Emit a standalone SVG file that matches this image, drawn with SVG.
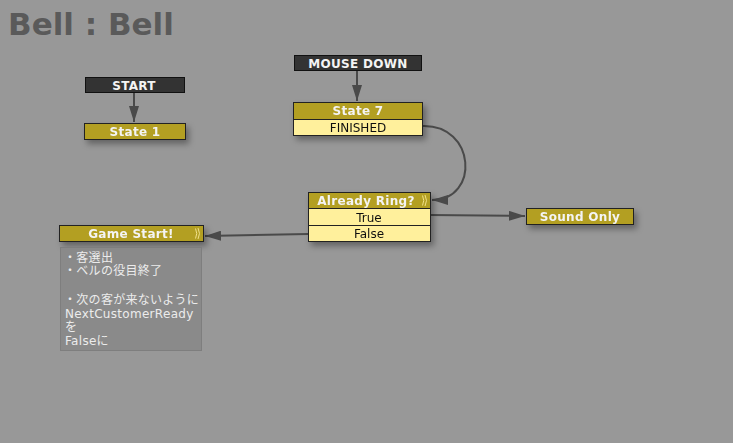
<svg xmlns="http://www.w3.org/2000/svg" width="733" height="443" viewBox="0 0 733 443">
<defs>
<style>
.hdr{fill:#b39f22;stroke:#222;stroke-width:1}
.evt{fill:#333;stroke:#111;stroke-width:1}
.row{fill:#fff09c;stroke:#222;stroke-width:1}
.t{font-family:"DejaVu Sans","Noto Sans",sans-serif;font-size:12px;text-anchor:middle}
.tb{font-weight:bold;fill:#f4f4f4;letter-spacing:0.3px}
.tr{fill:#111}
.edge{fill:none;stroke:#4a4a4a;stroke-width:2}
.cm{font-family:"DejaVu Sans","Noto Sans CJK JP",sans-serif;font-size:12px;fill:#ececec;letter-spacing:0.3px}
.ic{fill:none;stroke:#f0e08a;stroke-width:1}
</style>
<filter id="sh" x="-20%" y="-50%" width="150%" height="250%">
<feDropShadow dx="3" dy="4" stdDeviation="3" flood-color="#000" flood-opacity="0.35"/>
</filter>
<marker id="ar2" viewBox="0 0 16 10" refX="16" refY="5" markerWidth="16" markerHeight="10" markerUnits="userSpaceOnUse" orient="auto">
<path d="M0,0 L16,5 L0,10 z" fill="#4a4a4a"/>
</marker>
</defs>
<rect width="733" height="443" fill="#989898"/>
<text x="8" y="35" font-family="'DejaVu Sans',sans-serif" font-size="31" font-weight="bold" fill="#5a5a5a">Bell : Bell</text>

<g id="connectors">
<line class="edge" x1="134" y1="92" x2="134" y2="122" marker-end="url(#ar2)"/>
<line class="edge" x1="357" y1="71" x2="357" y2="101" marker-end="url(#ar2)"/>
<path class="edge" d="M422,126 C476,124 480,200 432,200" marker-end="url(#ar2)"/>
<path class="edge" d="M430,215 L525,216" marker-end="url(#ar2)"/>
<path class="edge" d="M308,234 L205,236" marker-end="url(#ar2)"/>
</g>

<g id="start">
<rect class="evt" x="85.5" y="77.5" width="99" height="15"/>
<text class="t tb" x="134" y="89.5">START</text>
</g>
<g id="state1" filter="url(#sh)">
<rect class="hdr" x="84.5" y="123.5" width="101" height="16"/>
<text class="t tb" x="135" y="136">State 1</text>
</g>
<g id="mousedown">
<rect class="evt" x="294.5" y="55.5" width="127" height="15"/>
<text class="t tb" x="358" y="67.5">MOUSE DOWN</text>
</g>
<g id="state7" filter="url(#sh)">
<rect class="hdr" x="293.5" y="102.5" width="129" height="17"/>
<rect class="row" x="293.5" y="119.5" width="129" height="16"/>
<text class="t tb" x="358" y="115">State 7</text>
<text class="t tr" x="358" y="132">FINISHED</text>
</g>
<g id="alreadyring" filter="url(#sh)">
<rect class="hdr" x="308.5" y="192.5" width="122" height="16"/>
<rect class="row" x="308.5" y="208.5" width="122" height="17"/>
<rect class="row" x="308.5" y="225.5" width="122" height="16"/>
<text class="t tb" x="366" y="205">Already Ring?</text>
<path class="ic" d="M422.5,195.5 Q425,200.5 422.5,205.5 M425,195 Q428,200.5 425,206"/>
<text class="t tr" x="369" y="221.5">True</text>
<text class="t tr" x="369" y="238">False</text>
</g>
<g id="soundonly" filter="url(#sh)">
<rect class="hdr" x="526.5" y="208.5" width="107" height="16"/>
<text class="t tb" x="580" y="221">Sound Only</text>
</g>
<g id="gamestart">
<g filter="url(#sh)">
<rect class="hdr" x="59.5" y="225.5" width="144" height="16"/>
<text class="t tb" x="131" y="238">Game Start!</text>
<path class="ic" d="M195.5,228.5 Q198,233.5 195.5,238.5 M198,228 Q201,233.5 198,239"/>
</g>
<rect x="60.5" y="247.5" width="141" height="103" fill="#8a8a8a" stroke="#7e7e7e"/>
<text class="cm">
<tspan x="64" y="262">・客選出</tspan>
<tspan x="64" y="275">・ベルの役目終了</tspan>
<tspan x="64" y="304">・次の客が来ないように</tspan>
<tspan x="65" y="318">NextCustomerReady</tspan>
<tspan x="65" y="331">を</tspan>
<tspan x="65" y="345">Falseに</tspan>
</text>
</g>
</svg>
